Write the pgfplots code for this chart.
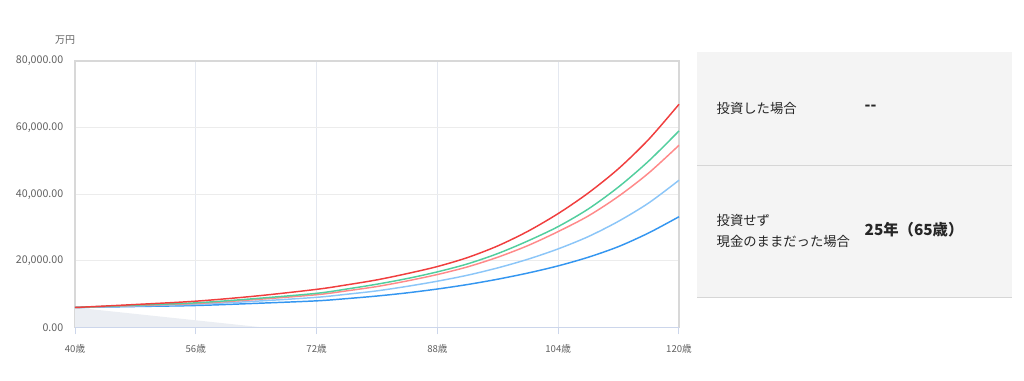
\documentclass[border=0pt]{standalone}
\usepackage{fontspec}
\setmainfont{Noto Sans CJK JP}
\usepackage{pgfplots}
\pgfplotsset{compat=1.18}
\usepackage{pgfplotstable}
\definecolor{cRed}{RGB}{240,62,62}
\definecolor{cGreen}{RGB}{82,206,158}
\definecolor{cPink}{RGB}{255,138,138}
\definecolor{cLBlue}{RGB}{140,198,248}
\definecolor{cBlue}{RGB}{52,150,240}
\definecolor{cArea}{RGB}{235,238,243}
\definecolor{frameGray}{RGB}{216,216,216}
\definecolor{axisBlue}{RGB}{204,214,235}
\definecolor{hGrid}{RGB}{236,236,236}
\definecolor{vGrid}{RGB}{228,232,240}
\definecolor{txtGray}{RGB}{96,96,96}
\definecolor{panel}{RGB}{244,244,244}
\definecolor{divider}{RGB}{214,214,214}

\pgfplotstableread{
age red green pink lblue blue
40 6000 6000 6000 6000 6000
48 6900 6700 6600 6450 6300
56 7900 7400 7200 6950 6600
64 9450 8700 8400 7900 7250
72 11450 10260 9840 9060 8000
76 12800 11550 11000 9980 8670
80 14300 13000 12300 11000 9450
84 16180 14690 13980 12350 10400
88 18300 16700 15900 13900 11550
92 21000 19100 18200 15700 12900
96 24500 22200 21100 17900 14500
100 28900 26000 24600 20500 16350
104 34200 30300 28800 23600 18500
108 40400 35600 33500 27300 21100
112 47700 42200 39400 31900 24300
116 56500 50000 46400 37400 28400
120 67000 59000 54700 44200 33250
}\lines

\pgfplotstableread{
age cash
40 6000
65 0
}\cash

\begin{document}
\begin{tikzpicture}[x=0.75pt,y=0.75pt]
\path[use as bounding box] (0,0) rectangle (1024,381);
% right panel
\fill[panel] (697,83) rectangle (1012,329);
\draw[divider,line width=0.75pt] (697,215) -- (1012,215);
\draw[divider,line width=0.75pt] (697,83) -- (1012,83);
\node[anchor=west,font=\fontsize{10}{12}\selectfont,text=black!85] at (712,273) {投資した場合};
\node[anchor=west,font=\fontsize{11.5}{13}\selectfont\bfseries,text=black!85] at (860,273) {{-}{-}};
\node[anchor=west,font=\fontsize{10}{12}\selectfont,text=black!85] at (712,161) {投資せず};
\node[anchor=west,font=\fontsize{10}{12}\selectfont,text=black!85] at (712,140) {現金のままだった場合};
\node[anchor=west,font=\fontsize{11.5}{13}\selectfont\bfseries,text=black!85] at (860,151) {25年（65歳）};
\node[font=\fontsize{7.5}{9}\selectfont,text=txtGray] at (65,341) {万円};
\begin{axis}[
  at={(56.25pt,40.125pt)}, anchor=south west,
  scale only axis, width=453pt, height=199.9pt,
  xmin=40, xmax=120, ymin=0, ymax=80000,
  xtick={40,56,72,88,104,120},
  xticklabels={40歳,56歳,72歳,88歳,104歳,120歳},
  ytick={0,20000,40000,60000,80000},
  scaled y ticks=false,
  xticklabel style={font=\fontsize{7.2}{8}\selectfont, text=txtGray},
  yticklabel style={font=\fontsize{8}{9}\selectfont, text=txtGray,
    /pgf/number format/.cd,fixed,fixed zerofill,precision=2,1000 sep={,},assume math mode=true},
  grid=major,
  x grid style={vGrid,line width=0.75pt},
  y grid style={hGrid,line width=0.75pt},
  axis line style={frameGray,line width=0.9pt},
  xtick pos=bottom, ytick pos=left,
  tick align=outside,
  xtick style={axisBlue,line width=0.75pt},
  major tick length=5.25pt,
  ytick style={draw=none},
  xticklabel shift=4pt,
  yticklabel shift=0pt,
  clip=false,
]
\addplot[fill=cArea,draw=none] table[x=age,y=cash] {\cash} \closedcycle;
\draw[axisBlue,line width=1pt] (rel axis cs:0,0) -- (rel axis cs:1,0);
\addplot[cBlue,line width=1.1pt,smooth,no marks] table[x=age,y=blue] {\lines};
\addplot[cLBlue,line width=1.1pt,smooth,no marks] table[x=age,y=lblue] {\lines};
\addplot[cPink,line width=1.1pt,smooth,no marks] table[x=age,y=pink] {\lines};
\addplot[cGreen,line width=1.1pt,smooth,no marks] table[x=age,y=green] {\lines};
\addplot[cRed,line width=1.1pt,smooth,no marks] table[x=age,y=red] {\lines};
\end{axis}
\end{tikzpicture}
\end{document}
